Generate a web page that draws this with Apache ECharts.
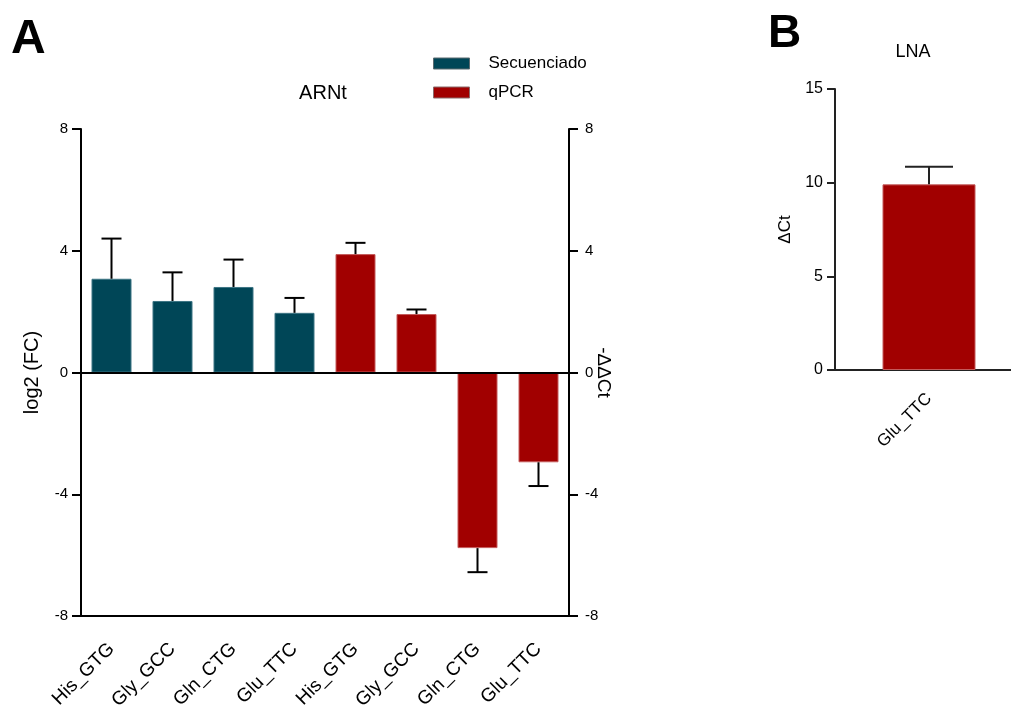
<!DOCTYPE html>
<html>
<head>
<meta charset="utf-8">
<script src="https://cdn.jsdelivr.net/npm/echarts@6/dist/echarts.min.js"></script>
<style>
  html, body { margin: 0; padding: 0; background: #fff; }
  #chart { width: 1011px; height: 718px; }
</style>
</head>
<body>
<div id="chart"></div>
<script>
// Panel A: tRNA fold change (sequencing) and -ΔΔCt (qPCR)
const categoriesA = ['His_GTG', 'Gly_GCC', 'Gln_CTG', 'Glu_TTC', 'His_GTG', 'Gly_GCC', 'Gln_CTG', 'Glu_TTC'];
const secuenciado = [3.08, 2.35, 2.81, 1.96, null, null, null, null];
const qpcr = [null, null, null, null, 3.89, 1.92, -5.77, -2.95];
const errorsA = [1.32, 0.94, 0.90, 0.49, 0.37, 0.15, 0.79, 0.78];
const ticksA = { min: -8, max: 8, interval: 4 };

// Panel B: LNA ΔCt
const categoriesB = ['Glu_TTC'];
const lnaValues = [9.91];
const errorsB = [0.94];
const ticksB = { min: 0, max: 15, interval: 5 };

const TEAL = '#004657';
const RED = '#a10000';
const FONT = 'Liberation Sans, Arial, sans-serif';

// pairs value and error for the custom error-bar series
function errorData(values, errs) {
  const out = [];
  values.forEach((v, i) => {
    if (v !== null && v !== undefined) out.push([i, v, errs[i]]);
  });
  return out;
}

function errorBarRenderer(capHalf, color) {
  return function (params, api) {
    const x = api.value(0);
    const v = api.value(1);
    const e = api.value(2);
    const sign = v >= 0 ? 1 : -1;
    const p0 = api.coord([x, v]);
    const p1 = api.coord([x, v + sign * e]);
    const style = { stroke: color, lineWidth: 2 };
    return {
      type: 'group',
      children: [
        { type: 'line', shape: { x1: p0[0], y1: p0[1], x2: p1[0], y2: p1[1] }, style: style },
        { type: 'line', shape: { x1: p1[0] - capHalf, y1: p1[1], x2: p1[0] + capHalf, y2: p1[1] }, style: style }
      ]
    };
  };
}

const seqAll = secuenciado.map((v, i) => v !== null ? v : qpcr[i]);

const chart = echarts.init(document.getElementById('chart'), null, { renderer: 'canvas' });

chart.setOption({
  animation: false,
  backgroundColor: '#fff',
  textStyle: { fontFamily: FONT },
  title: [
    { text: 'A', left: 6, top: 11, textStyle: { fontSize: 48, fontWeight: 'bold', color: '#000', fontFamily: FONT } },
    { text: 'B', left: 763, top: 6, textStyle: { fontSize: 46, fontWeight: 'bold', color: '#000', fontFamily: FONT } },
    { text: 'ARNt', left: 318, textAlign: 'center', top: 78, textStyle: { fontSize: 20, fontWeight: 'normal', color: '#000', fontFamily: FONT } },
    { text: 'LNA', left: 908, textAlign: 'center', top: 38, textStyle: { fontSize: 18, fontWeight: 'normal', color: '#000', fontFamily: FONT } }
  ],
  legend: {
    orient: 'vertical',
    left: 433,
    top: 55,
    padding: 0,
    itemWidth: 36,
    itemHeight: 11,
    itemGap: 12,
    data: [
      { name: 'Secuenciado', icon: 'rect', itemStyle: { color: TEAL, borderColor: '#5a6a70', borderWidth: 1 } },
      { name: 'qPCR', icon: 'rect', itemStyle: { color: RED, borderColor: '#8a6a6a', borderWidth: 1 } }
    ],
    textStyle: { fontSize: 17, color: '#000', fontFamily: FONT, padding: [0, 0, 0, 14] }
  },
  grid: [
    { left: 81, top: 129, width: 488, height: 487, outerBoundsMode: 'none' },
    { left: 835, top: 89, width: 188, height: 281, outerBoundsMode: 'none' }
  ],
  xAxis: [
    {
      type: 'category', gridIndex: 0, data: categoriesA,
      axisLine: { onZero: false, lineStyle: { color: '#000', width: 2 } },
      axisTick: { alignWithLabel: true, length: 10, lineStyle: { color: '#000', width: 2 } },
      axisLabel: { rotate: 45, margin: 30, fontSize: 19, color: '#000', fontFamily: FONT, interval: 0 }
    },
    {
      type: 'category', gridIndex: 1, data: categoriesB,
      axisLine: { onZero: false, lineStyle: { color: '#222', width: 2 } },
      axisTick: { alignWithLabel: true, length: 9, lineStyle: { color: '#222', width: 2 } },
      axisLabel: { rotate: 45, margin: 26, fontSize: 17, color: '#000', fontFamily: FONT }
    }
  ],
  yAxis: [
    {
      type: 'value', gridIndex: 0, position: 'left', min: ticksA.min, max: ticksA.max, interval: ticksA.interval,
      name: 'log2 (FC)', nameLocation: 'middle', nameGap: 39, nameRotate: 90, nameMoveOverlap: false,
      nameTextStyle: { fontSize: 20, color: '#000', fontFamily: FONT },
      splitLine: { show: false },
      axisLine: { show: true, lineStyle: { color: '#000', width: 2 } },
      axisTick: { show: true, length: 9, lineStyle: { color: '#000', width: 2 } },
      axisLabel: { margin: 13, fontSize: 15, color: '#000', fontFamily: FONT }
    },
    {
      type: 'value', gridIndex: 0, position: 'right', min: ticksA.min, max: ticksA.max, interval: ticksA.interval,
      name: '-ΔΔCt', nameLocation: 'middle', nameGap: 25, nameRotate: -90, nameMoveOverlap: false,
      nameTextStyle: { fontSize: 19, color: '#000', fontFamily: FONT },
      splitLine: { show: false },
      axisLine: { show: true, lineStyle: { color: '#000', width: 2 } },
      axisTick: { show: true, length: 9, lineStyle: { color: '#000', width: 2 } },
      axisLabel: { margin: 16, fontSize: 15, color: '#000', fontFamily: FONT }
    },
    {
      type: 'value', gridIndex: 1, min: ticksB.min, max: ticksB.max, interval: ticksB.interval,
      name: 'ΔCt', nameLocation: 'middle', nameGap: 41, nameRotate: 90, nameMoveOverlap: false,
      nameTextStyle: { fontSize: 17, color: '#000', fontFamily: FONT },
      splitLine: { show: false },
      axisLine: { show: true, lineStyle: { color: '#222', width: 2 } },
      axisTick: { show: true, length: 8, lineStyle: { color: '#222', width: 2 } },
      axisLabel: { margin: 12, fontSize: 16, color: '#000', fontFamily: FONT }
    }
  ],
  series: [
    {
      name: 'Secuenciado', type: 'bar', xAxisIndex: 0, yAxisIndex: 0,
      data: secuenciado, barWidth: 40, barGap: '-100%',
      itemStyle: { color: TEAL, borderColor: '#3d7584', borderWidth: 1 },
      markLine: {
        silent: true, symbol: 'none', label: { show: false },
        lineStyle: { color: '#000', width: 2, type: 'solid' },
        data: [{ yAxis: 0 }]
      },
      z: 2
    },
    {
      name: 'qPCR', type: 'bar', xAxisIndex: 0, yAxisIndex: 0,
      data: qpcr, barWidth: 40, barGap: '-100%',
      itemStyle: { color: RED, borderColor: '#c45a5a', borderWidth: 1 },
      z: 2
    },
    {
      name: 'errA', type: 'custom', xAxisIndex: 0, yAxisIndex: 0,
      data: errorData(seqAll, errorsA),
      encode: { x: 0, y: 1 },
      renderItem: errorBarRenderer(10, '#000'),
      z: 3
    },
    {
      name: 'LNA', type: 'bar', xAxisIndex: 1, yAxisIndex: 2,
      data: lnaValues, barWidth: 93,
      itemStyle: { color: RED, borderColor: '#c45a5a', borderWidth: 1 },
      z: 2
    },
    {
      name: 'errB', type: 'custom', xAxisIndex: 1, yAxisIndex: 2,
      data: errorData(lnaValues, errorsB),
      encode: { x: 0, y: 1 },
      renderItem: errorBarRenderer(24, '#222'),
      z: 3
    }
  ]
});
</script>
</body>
</html>
